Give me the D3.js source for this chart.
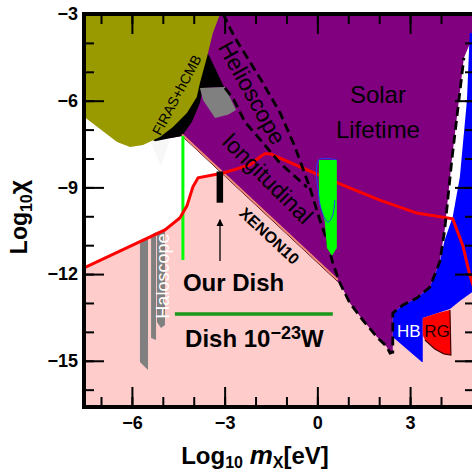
<!DOCTYPE html>
<html><head><meta charset="utf-8">
<script src="https://cdn.jsdelivr.net/npm/d3@7"></script>
<style>body{margin:0;background:#fff}svg{display:block}text{font-family:"Liberation Sans",Arial,sans-serif}</style>
</head><body><svg id="c" width="472" height="473"></svg>
<script>
// ---------- data (log10 m [eV], log10 chi) ----------
const xTicksMajor = [-6, -3, 0, 3];
const yTicksMajor = [-3, -6, -9, -12, -15];
const xTicksMinor = [-7, -6, -5, -4, -3, -2, -1, 0, 1, 2, 3, 4];
const yTicksMinor = [-16, -15, -14, -13, -12, -11, -10, -9, -8, -7, -6, -5, -4];

const redLimit = [[-7.55,-11.79],[-4.93,-10.47],[-4.45,-10.06],[-4.22,-9.64],[-4.03,-8.99],[-3.86,-8.67],[-3.05,-8.5],[-2.18,-8.22],[-1.86,-7.95],[-1.7,-7.84],[-1.53,-7.84],[0.41,-8.74],[2.02,-9.44],[3.22,-9.89],[4.38,-10.09],[4.71,-11.03],[4.93,-12.03],[5.1,-12.6]];
const xenonRegion = [[-7.55,-16.6],[-7.55,-11.79],[-4.93,-10.47],[-4.45,-10.06],[-4.22,-9.64],[-4.03,-8.99],[-3.86,-8.67],[-3.09,-8.51],[0.66,-12.26],[5.1,-12.26],[5.1,-16.6]];
const xenonEdge = [[-4.38,-7.22],[0.66,-12.26]];
const faintRegion = [[-5.42,-7.36],[-4.77,-7.36],[-5.06,-8.26]];
const solarRegion = [[-3.4,-3],[5.1,-3],[5.1,-3.6],[4.74,-4.52],[4.35,-8.05],[4.12,-10.47],[3.96,-11.58],[3.64,-12.45],[3.22,-12.83],[2.77,-13.07],[2.44,-13.35],[2.44,-14.7],[2.35,-14.78],[2.25,-14.52],[1.93,-14.18],[1.47,-13.59],[1.05,-13.0],[0.73,-12.31],[0.66,-12.26],[-4.38,-7.22],[-4.8,-7.3],[-3.9,-5.5]];
const hbRegion = [[4.93,-3.66],[4.84,-5.98],[4.61,-8.64],[4.38,-10.02],[4.12,-10.82],[3.96,-11.58],[3.64,-12.45],[3.22,-12.83],[2.77,-13.07],[2.44,-13.35],[2.44,-14.18],[3.38,-15.04],[3.41,-15.04],[3.41,-13.52],[3.9,-13.35],[4.29,-13.21],[4.61,-12.93],[5.1,-12.55],[5.1,-3.66]];
const rgRegion = [[3.41,-13.52],[3.9,-13.35],[4.29,-13.24],[4.32,-14.8],[4.09,-14.76],[3.8,-14.59],[3.48,-14.28],[3.41,-14.11]];
const rgEdge = [[3.48,-14.28],[3.8,-14.59],[4.09,-14.76],[4.32,-14.8],[4.29,-13.24]];
const cmbBlack = [[-3.8,-4.25],[-3.51,-4.42],[-3.02,-5.53],[-3.7,-5.56],[-3.8,-6.08],[-4.06,-6.74],[-4.38,-7.22],[-4.77,-7.3],[-5.25,-7.4],[-5.42,-7.3],[-4.5,-6.0]];
const firasRegion = [[-7.55,-3],[-7.55,-6.56],[-7.03,-6.98],[-6.48,-7.43],[-6.06,-7.6],[-5.64,-7.53],[-5.09,-7.26],[-4.67,-6.91],[-4.22,-6.43],[-3.9,-5.87],[-3.8,-5.39],[-3.57,-4.49],[-3.38,-3.66],[-3.15,-3.0]];
const haloUpper = [[-3.8,-5.56],[-2.99,-5.53],[-2.63,-6.32],[-2.89,-6.49],[-3.31,-6.6],[-3.7,-5.98]];
const haloBar1 = [[-5.74,-10.85],[-5.48,-10.75],[-5.48,-15.32],[-5.74,-15.04]];
const haloBar2 = [[-5.38,-10.65],[-5.22,-10.54],[-5.22,-14.28],[-5.38,-14.21]];
const haloBar3 = [[-5.19,-10.54],[-4.93,-10.44],[-4.93,-13.76],[-5.06,-13.87],[-5.19,-13.66]];
const helioRight = [[-3.05,-3.0],[-2.68,-3.8],[-1.82,-5.28],[-1.2,-6.43],[-0.75,-7.53],[-0.45,-8.4],[-0.24,-9.02]];
const helioLeft = [[-2.99,-5.56],[-2.73,-5.91],[-2.34,-6.74],[-1.76,-7.46],[-1.21,-8.16],[-0.34,-8.99]];
const solarEdge = [[-0.24,-9.02],[0.08,-10.13],[0.31,-10.82],[0.5,-11.62],[0.73,-12.31],[1.05,-13.0],[1.47,-13.59],[1.93,-14.18],[2.25,-14.52],[2.35,-14.73],[2.44,-14.7],[2.44,-13.35],[2.77,-13.07],[3.22,-12.83],[3.64,-12.45],[3.96,-11.58],[4.12,-10.47],[4.35,-8.05],[4.74,-4.52]];
const greenLine = [[-4.35,-7.22],[-4.35,-11.51]];
const greenBar = [[0.05,-8.05],[0.63,-8.05],[0.63,-11.1],[0.47,-11.37],[0.31,-11.1],[0.24,-10.2],[0.05,-9.44]];
const greenBarEdge = [[0.63,-8.05],[0.05,-8.05],[0.05,-9.33],[0.15,-9.85],[0.34,-10.2],[0.5,-9.95],[0.56,-9.44]];
const dishBar = [[-3.26,-8.45],[-3.05,-9.53]];
const dishArrow = [[-3.15,-11.55],[-3.15,-10.12]];
const dishLine = [[-4.61,-13.38],[0.5,-13.38]];

// ---------- scales ----------
const x = d3.scaleLinear().domain([-7.55, 5.1]).range([84, 475]);
const y = d3.scaleLinear().domain([-16.6, -3]).range([407, 14]);
const svg = d3.select("#c");
const line = d3.line().x(d => x(d[0])).y(d => y(d[1]));
const poly = pts => line(pts) + "Z";

svg.append("defs").append("clipPath").attr("id","clip")
  .append("rect").attr("x",84).attr("y",14).attr("width",391).attr("height",393);
svg.select("defs").append("marker").attr("id","arr").attr("viewBox","0 0 10 10")
  .attr("refX",9).attr("refY",5).attr("markerWidth",7).attr("markerHeight",9)
  .attr("markerUnits","userSpaceOnUse").attr("orient","auto")
  .append("path").attr("d","M0,0L10,5L0,10Z").attr("fill","#000");

const g = svg.append("g").attr("clip-path","url(#clip)");
g.append("rect").attr("x",84).attr("y",14).attr("width",391).attr("height",393).attr("fill","#fff");
g.append("path").attr("d",poly(xenonRegion)).attr("fill","#ffcccc");
g.append("path").attr("d",poly(faintRegion)).attr("fill","#f7f7f7");
g.append("path").attr("d",poly(solarRegion)).attr("fill","#800080");
g.append("path").attr("d",poly(hbRegion)).attr("fill","#0000ff");
g.append("path").attr("d",poly(rgRegion)).attr("fill","#ff0000");
g.append("path").attr("d",line(rgEdge)).attr("fill","none").attr("stroke","#400").attr("stroke-width",1.2);
g.append("path").attr("d",poly(cmbBlack)).attr("fill","#000");
g.append("path").attr("d",poly(firasRegion)).attr("fill","#999900");
g.append("path").attr("d",poly(haloUpper)).attr("fill","#808080");
[haloBar1, haloBar2, haloBar3].forEach(b => g.append("path").attr("d",poly(b)).attr("fill","#808080"));
g.append("path").attr("d",line(xenonEdge)).attr("stroke","#300").attr("stroke-width",1).attr("fill","none");
g.append("path").attr("d",line(xenonEdge)).attr("stroke","#f08878").attr("stroke-width",2).attr("fill","none").attr("transform","translate(0,-1.5)");
g.append("path").attr("d",line(greenLine)).attr("stroke","#00ff00").attr("stroke-width",3).attr("fill","none");
g.append("path").attr("d",line(redLimit)).attr("stroke","#ff0000").attr("stroke-width",3).attr("fill","none");
[helioRight, helioLeft, solarEdge].forEach(p => g.append("path").attr("d",line(p))
  .attr("stroke","#000").attr("stroke-width",2.8).attr("fill","none").attr("stroke-dasharray","9,5"));
g.append("path").attr("d",poly(greenBar)).attr("fill","#00ff00");
g.append("path").attr("d",d3.line().x(d=>x(d[0])).y(d=>y(d[1])).curve(d3.curveCatmullRom)(greenBarEdge))
  .attr("stroke","#2040ff").attr("stroke-width",1).attr("fill","none");
g.append("rect").attr("x",x(dishBar[0][0])).attr("y",y(dishBar[0][1]))
  .attr("width",x(dishBar[1][0])-x(dishBar[0][0])).attr("height",y(dishBar[1][1])-y(dishBar[0][1])).attr("fill","#000");
g.append("path").attr("d",line(dishArrow)).attr("stroke","#000").attr("stroke-width",1.3).attr("marker-end","url(#arr)");
g.append("path").attr("d",line(dishLine)).attr("stroke","#1a961a").attr("stroke-width",3.5);

// ---------- labels ----------
function lab(txt, px, py, opts) {
  const t = svg.append("text").attr("transform",`translate(${x(px)},${y(py)}) rotate(${opts.rot||0})`)
    .attr("text-anchor",opts.anchor||"middle").attr("font-size",opts.size).attr("fill",opts.fill||"#000")
    .attr("font-weight",opts.bold?"bold":"normal").text(txt);
  if (opts.dy) t.attr("dy",opts.dy);
  return t;
}
lab("FIRAS+hCMB", -4.55, -5.8, {rot:-62, size:14, dy:"0.35em"});
lab("Helioscope", -2.11, -5.73, {rot:61, size:23, dy:"0.35em"});
lab("longitudinal", -1.6, -8.7, {rot:45, size:23, dy:"0.35em"});
lab("XENON10", -1.55, -10.68, {rot:43, size:16, bold:true, dy:"0.35em"});
lab("Solar", 1.96, -6.08, {size:24});
lab("Lifetime", 1.96, -7.29, {size:24});
lab("HB", 2.96, -14.18, {size:17, fill:"#fff"});
lab("RG", 3.87, -14.18, {size:17, fill:"#200"});
lab("Haloscope", -4.8, -12.07, {rot:-90, size:18, fill:"#fff"});
lab("Our Dish", -4.35, -12.58, {size:24, bold:true, anchor:"start"});
const d2 = lab("Dish 10", -4.28, -14.52, {size:24, bold:true, anchor:"start"});
d2.append("tspan").attr("font-size",18).attr("dy",-8).text("\u221223");
d2.append("tspan").attr("dy",8).text("W");

// ---------- axes ----------
function styleAx(sel){ sel.select(".domain").remove(); sel.selectAll(".tick line").attr("stroke","#000").attr("stroke-width",2);
  sel.selectAll("text").attr("font-size",18).attr("font-weight","bold").attr("fill","#000").attr("font-family","Liberation Sans, Arial, sans-serif"); }
const fmt = d3.format("d");
svg.append("g").attr("transform","translate(0,407)").call(d3.axisBottom(x).tickValues(xTicksMajor).tickSize(-20).tickPadding(9).tickFormat(fmt)).call(styleAx);
svg.append("g").attr("transform","translate(0,407)").call(d3.axisBottom(x).tickValues(xTicksMinor).tickSize(-10).tickFormat("")).call(styleAx);
svg.append("g").attr("transform","translate(0,14)").call(d3.axisTop(x).tickValues(xTicksMajor).tickSize(-20).tickFormat("")).call(styleAx);
svg.append("g").attr("transform","translate(0,14)").call(d3.axisTop(x).tickValues(xTicksMinor).tickSize(-10).tickFormat("")).call(styleAx);
svg.append("g").attr("transform","translate(84,0)").call(d3.axisLeft(y).tickValues(yTicksMajor).tickSize(-20).tickPadding(6).tickFormat(fmt)).call(styleAx);
svg.append("g").attr("transform","translate(84,0)").call(d3.axisLeft(y).tickValues(yTicksMinor).tickSize(-10).tickFormat("")).call(styleAx);
svg.append("g").attr("transform","translate(475,0)").call(d3.axisRight(y).tickValues(yTicksMajor).tickSize(-20).tickFormat("")).call(styleAx);
svg.append("g").attr("transform","translate(475,0)").call(d3.axisRight(y).tickValues(yTicksMinor).tickSize(-10).tickFormat("")).call(styleAx);
svg.append("rect").attr("x",84).attr("y",14).attr("width",391).attr("height",393).attr("fill","none").attr("stroke","#000").attr("stroke-width",4);

// axis titles
const xt = svg.append("text").attr("x",255).attr("y",464).attr("text-anchor","middle").attr("font-size",24).attr("font-weight","bold");
xt.append("tspan").text("Log");
xt.append("tspan").attr("font-size",16).attr("dy",4).text("10");
xt.append("tspan").attr("dy",-4).text(" ");
xt.append("tspan").attr("font-style","italic").attr("font-size",26).text("m");
xt.append("tspan").attr("font-size",16).attr("dy",4).text("X");
xt.append("tspan").attr("dy",-4).text("[eV]");
const yt = svg.append("text").attr("transform","translate(27,217) rotate(-90)").attr("text-anchor","middle").attr("font-size",23).attr("font-weight","bold");
yt.append("tspan").text("Log");
yt.append("tspan").attr("font-size",16).attr("dy",5).text("10");
yt.append("tspan").attr("dy",-5).attr("font-size",25).text("\u03c7");
</script></body></html>
